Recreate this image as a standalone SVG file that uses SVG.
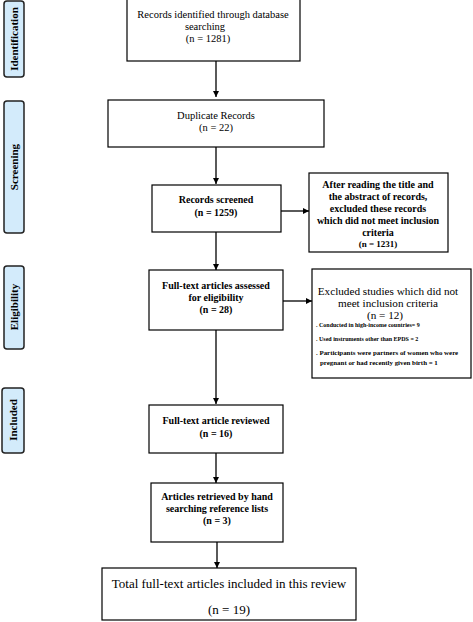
<svg xmlns="http://www.w3.org/2000/svg" width="473" height="622" viewBox="0 0 473 622" font-family="'Liberation Serif', 'DejaVu Serif', serif">
<style>
.box{fill:#fff;stroke:#000;stroke-width:1.2}
.lab{fill:#d3ebfb;stroke:#222;stroke-width:1.5}
text{font-family:'Liberation Serif','DejaVu Serif',serif;fill:#000}
.t{font-size:10.5px;text-anchor:middle}
.b{font-size:10px;font-weight:bold;text-anchor:middle}
.s{font-size:6px;font-weight:bold}
.s7{font-size:6.9px;font-weight:bold}
.m{font-size:11.2px;text-anchor:middle}
.big{font-size:13px;text-anchor:middle}
.lt{font-size:11px;font-weight:bold;text-anchor:middle}
.c{stroke:#000;stroke-width:1.3;fill:none;marker-end:url(#ah)}
</style>
<defs>
<marker id="ah" viewBox="0 0 8 8" refX="8" refY="4" markerWidth="6" markerHeight="6" markerUnits="userSpaceOnUse" orient="auto">
<path d="M0,0 L8,4 L0,8 z" fill="#000"/>
</marker>
</defs>
<rect width="473" height="622" fill="#fff"/>
<g id="label-identification"><rect class="lab" x="4" y="1" width="20" height="76" rx="3"/><text class="lt" transform="translate(18,39) rotate(-90)">Identification</text></g>
<g id="label-screening"><rect class="lab" x="4" y="101" width="20" height="132" rx="3"/><text class="lt" transform="translate(18,167) rotate(-90)">Screening</text></g>
<g id="label-eligibility"><rect class="lab" x="4" y="266" width="20" height="83" rx="3"/><text class="lt" transform="translate(18,307) rotate(-90)">Eligibility</text></g>
<g id="label-included"><rect class="lab" x="2" y="388" width="22" height="65" rx="3"/><text class="lt" transform="translate(17,420) rotate(-90)">Included</text></g>
<g id="connectors">
<path class="c" d="M216,61 V97"/>
<path class="c" d="M216,147 V184"/>
<path class="c" d="M216,232 V270"/>
<path class="c" d="M281,211 H309"/>
<path class="c" d="M216,330 V404"/>
<path class="c" d="M283,301 H312"/>
<path class="c" d="M216,453 V483"/>
<path class="c" d="M217,542 V568"/>
</g>
<g id="n1"><rect class="box" x="127" y="-1" width="173" height="62"/><text class="t" x="213" y="18">Records identified through database</text><text class="t" x="205" y="30">searching</text><text class="t" x="208" y="42">(n = 1281)</text></g>
<g id="n2"><rect class="box" x="108" y="100" width="216" height="47"/><text class="t" x="216" y="119">Duplicate Records</text><text class="t" x="216" y="131">(n = 22)</text></g>
<g id="n3"><rect class="box" x="152" y="185" width="129" height="47"/><text class="b" x="216" y="203">Records screened</text><text class="b" x="216" y="216">(n = 1259)</text></g>
<g id="n4"><rect class="box" x="309" y="173" width="139" height="79"/><text class="b" x="378" y="188">After reading the title and</text><text class="b" x="378" y="200">the abstract of records,</text><text class="b" x="378" y="212">excluded these records</text><text class="b" x="378" y="224">which did not meet inclusion</text><text class="b" x="378" y="236">criteria</text><text class="b" x="378" y="247" style="font-size:9px">(n = 1231)</text></g>
<g id="n5"><rect class="box" x="149" y="270" width="134" height="60"/><text class="b" x="216" y="289">Full-text articles assessed</text><text class="b" x="216" y="301">for eligibility</text><text class="b" x="216" y="313">(n = 28)</text></g>
<g id="n6"><rect class="box" x="312" y="269" width="159" height="109"/><text class="m" x="388" y="295">Excluded studies which did not</text><text class="m" x="388" y="307">meet inclusion criteria</text><text class="m" x="385" y="319">(n = 12)</text><text class="s" x="316" y="327">. Conducted in high-income countries= 9</text><text class="s" x="316" y="341">. Used instruments other than EPDS = 2</text><text class="s7" x="316" y="355">. Participants were partners of women who were</text><text class="s7" x="320" y="365">pregnant or had recently given birth = 1</text></g>
<g id="n7"><rect class="box" x="149" y="405" width="134" height="48"/><text class="b" x="216" y="424">Full-text article reviewed</text><text class="b" x="216" y="437">(n = 16)</text></g>
<g id="n8"><rect class="box" x="151" y="483" width="132" height="59"/><text class="b" x="217" y="500">Articles retrieved by hand</text><text class="b" x="217" y="512">searching reference lists</text><text class="b" x="217" y="524">(n = 3)</text></g>
<g id="n9"><rect class="box" x="102" y="568" width="254" height="52"/><text class="big" x="229" y="588">Total full-text articles included in this review</text><text class="big" x="229" y="614">(n = 19)</text></g>
</svg>
